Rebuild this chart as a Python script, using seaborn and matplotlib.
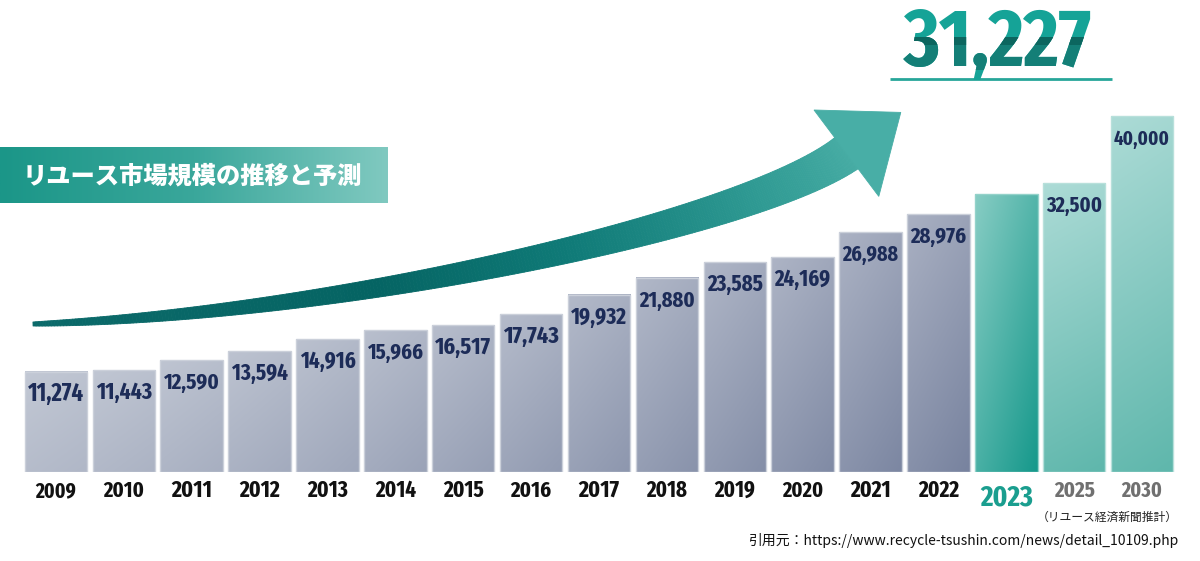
import numpy as np
import pandas as pd
import matplotlib
matplotlib.use("Agg")
import matplotlib.pyplot as plt
import seaborn as sns
from matplotlib import font_manager
from matplotlib.colors import LinearSegmentedColormap, to_rgb
from matplotlib.collections import PolyCollection
from matplotlib.patches import Polygon
from matplotlib.transforms import Bbox

# ---------------- data ----------------
years = ["2009", "2010", "2011", "2012", "2013", "2014", "2015", "2016",
         "2017", "2018", "2019", "2020", "2021", "2022", "2023", "2025", "2030"]
values = [11274, 11443, 12590, 13594, 14916, 15966, 16517, 17743,
          19932, 21880, 23585, 24169, 26988, 28976, 31227, 32500, 40000]
show_label = [True] * 14 + [False, True, True]
title_text = "リユース市場規模の推移と予測"
note_text = "（リユース経済新聞推計）"
source_text = "引用元：https://www.recycle-tsushin.com/news/detail_10109.php"
highlight_year = "2023"

df = pd.DataFrame({"year": years, "value": values})

# ---------------- fonts ----------------
def find_condensed_bold():
    best = None
    for f in font_manager.fontManager.ttflist:
        tag = (f.name + " " + f.fname).lower().replace("-", "").replace("_", "").replace(" ", "")
        if f.style != "normal" or "italic" in tag or "oblique" in tag:
            continue
        if "extracondensed" in tag or "ultracondensed" in tag:
            cs = 300
        elif "semicondensed" in tag:
            cs = 100
        elif "condensed" in tag or "narrow" in tag or str(f.stretch) in ("condensed", "extra-condensed"):
            cs = 200
        else:
            continue
        w = f.weight if isinstance(f.weight, int) else {"bold": 700, "normal": 400}.get(f.weight, 400)
        score = cs - abs(w - 700) * 0.5
        if best is None or score > best[0]:
            best = (score, f.fname)
    return best[1] if best else None

cfile = find_condensed_bold()

def num_fp(size):
    if cfile:
        return dict(fontproperties=font_manager.FontProperties(fname=cfile, size=size))
    return dict(family="Liberation Sans", fontweight="bold", fontsize=size)

jp_font = ["Noto Sans CJK JP", "DejaVu Sans"]

sns.set_theme(style="white")
plt.rcParams["font.family"] = jp_font

W, H = 1200, 561
PT = 0.72  # points per pixel at 100 dpi
fig = plt.figure(figsize=(12, 5.61), dpi=100)
fig.patch.set_facecolor("white")
renderer = fig.canvas.get_renderer()

def fit_width(txt, target_px, max_size):
    bb = txt.get_window_extent(renderer=renderer)
    size = txt.get_fontsize() * target_px / max(bb.width, 1)
    txt.set_fontsize(min(size, max_size))

# overlay axes in pixel coords
ax_o = fig.add_axes([0, 0, 1, 1], zorder=0)
ax_o.set_xlim(0, W)
ax_o.set_ylim(H, 0)
ax_o.axis("off")

# main axes
base_px, top_px = 472, 72
left_px, right_px = 22, 1176
ax = fig.add_axes([left_px / W, (H - base_px) / H, (right_px - left_px) / W,
                   (base_px - top_px) / H], zorder=1)
ax.patch.set_alpha(0)

sns.barplot(data=df, x="year", y="value", color="#b0b7c7", width=0.92,
            ax=ax, saturation=1)
YMAX = 45000
ax.set_xlim(-0.5, len(years) - 0.5)
ax.set_ylim(0, YMAX)

def grad_img(c_top, c_bot, diag=0.35, n=64):
    yy, xx = np.mgrid[0:1:n * 1j, 0:1:16j]   # row 0 = top
    t = yy * (1 - diag) + xx * diag           # 0 top-left .. 1 bottom-right
    t = np.clip(t, 0, 1)
    a, b = np.array(to_rgb(c_top)), np.array(to_rgb(c_bot))
    return a[None, None, :] * (1 - t[..., None]) + b[None, None, :] * t[..., None]

ngray = 14
for i, p in enumerate(ax.patches[:len(years)]):
    x0, w = p.get_x(), p.get_width()
    h = p.get_height()
    if i < ngray:
        f = i / (ngray - 1)
        top = np.array(to_rgb("#c2c8d4")) * (1 - f) + np.array(to_rgb("#a9b0c2")) * f
        bot = np.array(to_rgb("#b0b7c7")) * (1 - f) + np.array(to_rgb("#78839f")) * f
        img = grad_img(top, bot, diag=0.3)
        edge = "#cbd0da"
    elif years[i] == highlight_year:
        img = grad_img("#86ccc3", "#17998c", diag=0.45)
        edge = "#94d2ca"
    else:
        img = grad_img("#acdbd6", "#5fb7ac", diag=0.1)
        edge = "#b8e0db"
    ax.imshow(img, extent=[x0, x0 + w, 0, h], origin="upper", aspect="auto",
              zorder=2, interpolation="bilinear")
    p.set_facecolor("none")
    p.set_edgecolor(edge)
    p.set_linewidth(1.0)
    p.set_zorder(3)

ax.set_xlim(-0.5, len(years) - 0.5)
ax.set_ylim(0, YMAX)
sns.despine(ax=ax, left=True, bottom=True)
ax.set_xticks([])
ax.set_yticks([])
ax.set_xlabel("")
ax.set_ylabel("")

# value labels (inside bar tops)
for i, (v, s) in enumerate(zip(values, show_label)):
    if s:
        t = ax.annotate(f"{v:,}", (i, v), xytext=(0, -29 * PT), textcoords="offset points",
                        ha="center", va="baseline", color="#1d2c58", zorder=5,
                        **num_fp(20))
        fit_width(t, 56, 20.5)

# year labels under bars
for i, yr in enumerate(years):
    if yr == highlight_year:
        col, off, wpx, mx = "#1a9e8f", -33, 53, 26
    elif int(yr) > int(highlight_year):
        col, off, wpx, mx = "#707070", -25, 41, 20.5
    else:
        col, off, wpx, mx = "#111111", -25, 41, 20.5
    t = ax.annotate(yr, (i, 0), xytext=(0, off * PT), textcoords="offset points",
                    ha="center", va="baseline", color=col, zorder=5, **num_fp(20))
    fit_width(t, wpx, mx)

# ---------------- curved arrow ----------------
P0 = np.array([33.0, 324.0])
P1 = np.array([333.0, 315.0])
P2 = np.array([752.0, 224.0])
P3 = np.array([848.0, 152.0])
tt = np.linspace(0, 1, 300)
b0, b1, b2, b3 = (1 - tt) ** 3, 3 * (1 - tt) ** 2 * tt, 3 * (1 - tt) * tt ** 2, tt ** 3
pts = b0[:, None] * P0 + b1[:, None] * P1 + b2[:, None] * P2 + b3[:, None] * P3
der = (3 * (1 - tt) ** 2)[:, None] * (P1 - P0) + (6 * (1 - tt) * tt)[:, None] * (P2 - P1) \
    + (3 * tt ** 2)[:, None] * (P3 - P2)
der /= np.linalg.norm(der, axis=1)[:, None]
nrm = np.stack([-der[:, 1], der[:, 0]], axis=1)
widths = 4 + 35 * tt ** 0.85
upper = pts + nrm * (widths / 2)[:, None]
lower = pts - nrm * (widths / 2)[:, None]
arrow_cmap = LinearSegmentedColormap.from_list(
    "arr", [(0, "#0b6a6a"), (0.35, "#056463"), (0.55, "#0f7a77"),
            (0.8, "#2f9a93"), (1.0, "#46aca4")])
polys, cols = [], []
for k in range(len(tt) - 1):
    polys.append([upper[k], upper[k + 1], lower[k + 1], lower[k]])
    cols.append(arrow_cmap(tt[k]))
pc = PolyCollection(polys, facecolors=cols, edgecolors=cols, linewidths=0.6)
ax_o.add_collection(pc)
d_end = der[-1]
n_end = nrm[-1]
head = Polygon([P3 + n_end * 54 - d_end * 2, P3 + d_end * 66, P3 - n_end * 54 - d_end * 2],
               closed=True, facecolor="#48aea6", edgecolor="#48aea6", lw=0.6)
ax_o.add_patch(head)

# ---------------- title box ----------------
box_cmap = LinearSegmentedColormap.from_list("box", ["#1b9688", "#3aa79b", "#80c9c0"])
gbox = np.linspace(0, 1, 256)[None, :]
ax_o.imshow(gbox, cmap=box_cmap, extent=[0, 388, 203, 147], aspect="auto",
            interpolation="bilinear", zorder=1)
ax_o.text(192, 176, title_text, ha="center", va="center", color="white",
          fontsize=17.5, fontweight="heavy", family=jp_font, zorder=2)

# ---------------- big number ----------------
big = f"{values[years.index(highlight_year)]:,}"
bx_c, b_base = 998, 66
layers = [("#15a397", None), ("#147f77", (37, 70)), ("#0c665f", (37, 45))]
for col, clip in layers:
    t = ax_o.text(bx_c, b_base, big, ha="center", va="baseline", color=col,
                  zorder=4, **num_fp(60))
    fit_width(t, 210, 66)
    bb = t.get_window_extent(renderer=renderer)
    top_y = H - bb.y1
    if top_y < 4:
        t.set_fontsize(t.get_fontsize() * (b_base - 4) / (b_base - top_y))
    if clip is not None:
        t.set_clip_box(Bbox.from_extents(850, H - clip[1], 1150, H - clip[0]))
        t.set_clip_on(True)
    else:
        t.set_clip_on(False)
ax_o.plot([890, 1112], [79, 79], color="#27a699", lw=2, solid_capstyle="butt", zorder=3)

# ---------------- notes ----------------
ax_o.text(1178, 517, note_text, ha="right", va="center", fontsize=8.5,
          color="#222222", family=jp_font)
ax_o.text(1178, 541, source_text, ha="right", va="center", fontsize=10,
          color="#111111", family=jp_font)

ax_o.set_xlim(0, W)
ax_o.set_ylim(H, 0)

fig.savefig("out.png", dpi=100, facecolor="white")
